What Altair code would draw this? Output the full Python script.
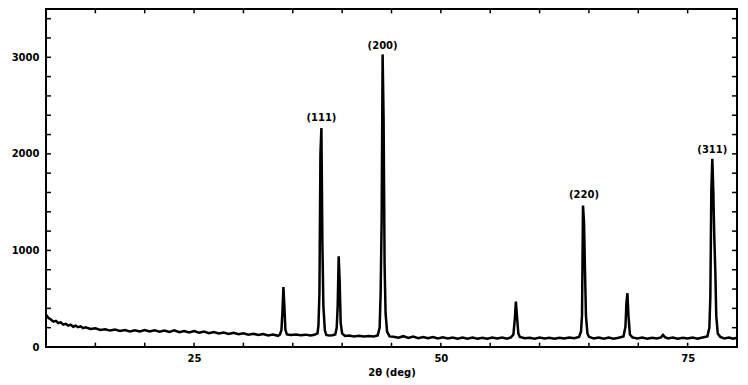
import altair as alt
import pandas as pd

two_theta = [
    10.0, 10.25, 10.5, 10.75, 11.0, 11.25, 11.5, 11.75, 12.0, 12.25, 12.5, 12.75, 13.0,
    13.25, 13.5, 13.75, 14.0, 14.5, 15.0, 15.5, 16.0, 16.5,
    17.0, 17.5, 18.0, 18.5, 19.0, 19.5, 20.0, 20.5, 21.0, 21.5, 22.0, 22.5, 23.0, 23.5,
    24.0, 24.5, 25.0, 25.5, 26.0, 26.5, 27.0, 27.5, 28.0, 28.5, 29.0, 29.5, 30.0, 30.5,
    31.0, 31.5, 32.0, 32.5, 33.0, 33.5,
    33.7, 33.85, 33.95, 34.05, 34.15, 34.25, 34.4,
    34.8, 35.3, 35.8, 36.3, 36.8, 37.2,
    37.5, 37.6, 37.7, 37.8, 37.9, 38.0, 38.1, 38.25, 38.4, 38.7, 39.0, 39.3,
    39.45, 39.55, 39.65, 39.75, 39.85, 40.0, 40.3,
    40.7, 41.2, 41.7, 42.2, 42.7, 43.2, 43.6,
    43.8, 43.9, 44.0, 44.1, 44.2, 44.3, 44.4, 44.55, 44.8,
    45.2, 45.7, 46.2, 46.7, 47.2, 47.7, 48.2, 48.7, 49.2, 49.7, 50.2, 50.7, 51.2, 51.7,
    52.2, 52.7, 53.2, 53.7, 54.2, 54.7, 55.2, 55.7, 56.2, 56.7, 57.1,
    57.35, 57.5, 57.6, 57.7, 57.85, 58.0,
    58.5, 59.0, 59.5, 60.0, 60.5, 61.0, 61.5, 62.0, 62.5, 63.0, 63.5, 64.0,
    64.2, 64.3, 64.4, 64.5, 64.6, 64.7, 64.85, 65.0,
    65.5, 66.0, 66.5, 67.0, 67.5, 68.0, 68.5,
    68.7, 68.8, 68.9, 69.0, 69.15, 69.4,
    69.9, 70.4, 70.9, 71.4, 71.9, 72.3, 72.5, 72.7, 73.0, 73.5, 74.0, 74.5, 75.0, 75.5,
    76.0, 76.5, 77.0,
    77.2, 77.3, 77.4, 77.5, 77.6, 77.7, 77.8, 77.9, 78.05, 78.3,
    78.7, 79.2, 79.6, 80.0,
]
counts = [
    335, 300, 285, 262, 270, 248, 255, 232, 240, 222, 232, 210, 220,
    205, 214, 196, 204, 186, 194, 176, 184, 170,
    180, 166, 176, 162, 174, 160, 176, 160, 172, 158, 170, 156, 172, 154,
    166, 150, 164, 148, 160, 142, 156, 140, 150, 136, 148, 132, 142, 128,
    138, 124, 134, 120, 128, 116,
    130, 175, 360, 620, 420, 180, 130,
    125, 130, 122, 128, 120, 126,
    140, 220, 560, 2000, 2268, 1070, 420, 170, 125, 118, 122, 130,
    200, 430, 940, 680, 250, 140, 115,
    118, 110, 116, 108, 115, 110, 120,
    200, 560, 1300, 3030, 2350, 850, 350, 160, 110,
    105, 96, 112, 94, 108, 92, 104, 90, 102, 88, 100, 88, 98, 86,
    97, 86, 99, 86, 96, 86, 98, 88, 97, 86, 100,
    130, 300, 470, 330, 140, 105,
    90, 96, 86, 98, 88, 96, 86, 96, 88, 98, 90, 105,
    160, 330, 1464, 1300, 800, 320, 140, 105,
    88, 98, 86, 97, 86, 96, 110,
    210, 460, 557, 330, 130, 100,
    88, 97, 86, 96, 88, 100, 125, 102, 88, 97, 86, 96, 88, 97,
    86, 98, 110,
    200, 520, 1620, 1948, 1620, 1134, 800, 320, 140, 105,
    88, 98, 86, 95,
]

peak_labels = ["(111)", "(200)", "(220)", "(311)"]
label_theta = [37.9, 44.1, 64.5, 77.5]
label_counts = [2370, 3120, 1570, 2045]

x_label_values = [25, 50, 75]
y_label_values = [0, 1000, 2000, 3000]
x_tick_values = list(range(10, 81, 5))
y_tick_values = list(range(0, 3501, 200))

FONT = "DejaVu Sans"
xs = alt.Scale(domain=[10, 80], nice=False, zero=False)
ys = alt.Scale(domain=[0, 3500], nice=False)

x_axis = alt.Axis(
    title="2θ (deg)", values=x_label_values, ticks=False, domain=False, grid=False,
    format="d",
    labelFont=FONT, labelFontSize=10, labelFontWeight="bold", labelColor="black",
    labelPadding=6, titleFont=FONT, titleFontSize=10, titleFontWeight="bold",
    titleColor="black", titlePadding=4)
y_axis = alt.Axis(
    title=None, values=y_label_values, ticks=False, domain=False, grid=False,
    format="d",
    labelFont=FONT, labelFontSize=10, labelFontWeight="bold", labelColor="black",
    labelPadding=7)

df = pd.DataFrame({"t": two_theta, "c": counts})
line = alt.Chart(df).mark_line(color="black", strokeWidth=2.5, clip=True).encode(
    x=alt.X("t:Q", scale=xs, axis=x_axis, title="2θ (deg)"),
    y=alt.Y("c:Q", scale=ys, axis=y_axis, title=None),
)

xt = pd.DataFrame({"t": x_tick_values})
yt = pd.DataFrame({"c": y_tick_values})
tick_style = dict(color="black", strokeWidth=1.5)

bottom_ticks = alt.Chart(xt).mark_rule(**tick_style).encode(
    x=alt.X("t:Q", scale=xs, axis=x_axis, title="2θ (deg)"),
    y=alt.YDatum(0, scale=ys, axis=y_axis, title=None), y2=alt.Y2Datum(45))
top_ticks = alt.Chart(xt).mark_rule(**tick_style).encode(
    x=alt.X("t:Q", scale=xs, axis=x_axis, title="2θ (deg)"),
    y=alt.YDatum(3500, scale=ys, axis=y_axis, title=None), y2=alt.Y2Datum(3455))
left_ticks = alt.Chart(yt).mark_rule(**tick_style).encode(
    y=alt.Y("c:Q", scale=ys, axis=y_axis, title=None),
    x=alt.XDatum(10, scale=xs, axis=x_axis, title="2θ (deg)"), x2=alt.X2Datum(10.5))
right_ticks = alt.Chart(yt).mark_rule(**tick_style).encode(
    y=alt.Y("c:Q", scale=ys, axis=y_axis, title=None),
    x=alt.XDatum(80, scale=xs, axis=x_axis, title="2θ (deg)"), x2=alt.X2Datum(79.5))

lab = pd.DataFrame({"t": label_theta, "c": label_counts, "s": peak_labels})
labels = alt.Chart(lab).mark_text(
    font=FONT, fontSize=10, fontWeight="bold", color="black"
).encode(
    x=alt.X("t:Q", scale=xs, axis=x_axis, title="2θ (deg)"),
    y=alt.Y("c:Q", scale=ys, axis=y_axis, title=None),
    text="s:N")

chart = alt.layer(line, bottom_ticks, top_ticks, left_ticks, right_ticks, labels).properties(
    width=691, height=338,
    autosize=alt.AutoSizeParams(type="none"),
    padding={"left": 38, "top": 1, "right": 3, "bottom": 31},
    background="white",
).configure_view(stroke="black", strokeWidth=2)

chart.save("out.html", embed_options={"renderer": "svg", "actions": False})
